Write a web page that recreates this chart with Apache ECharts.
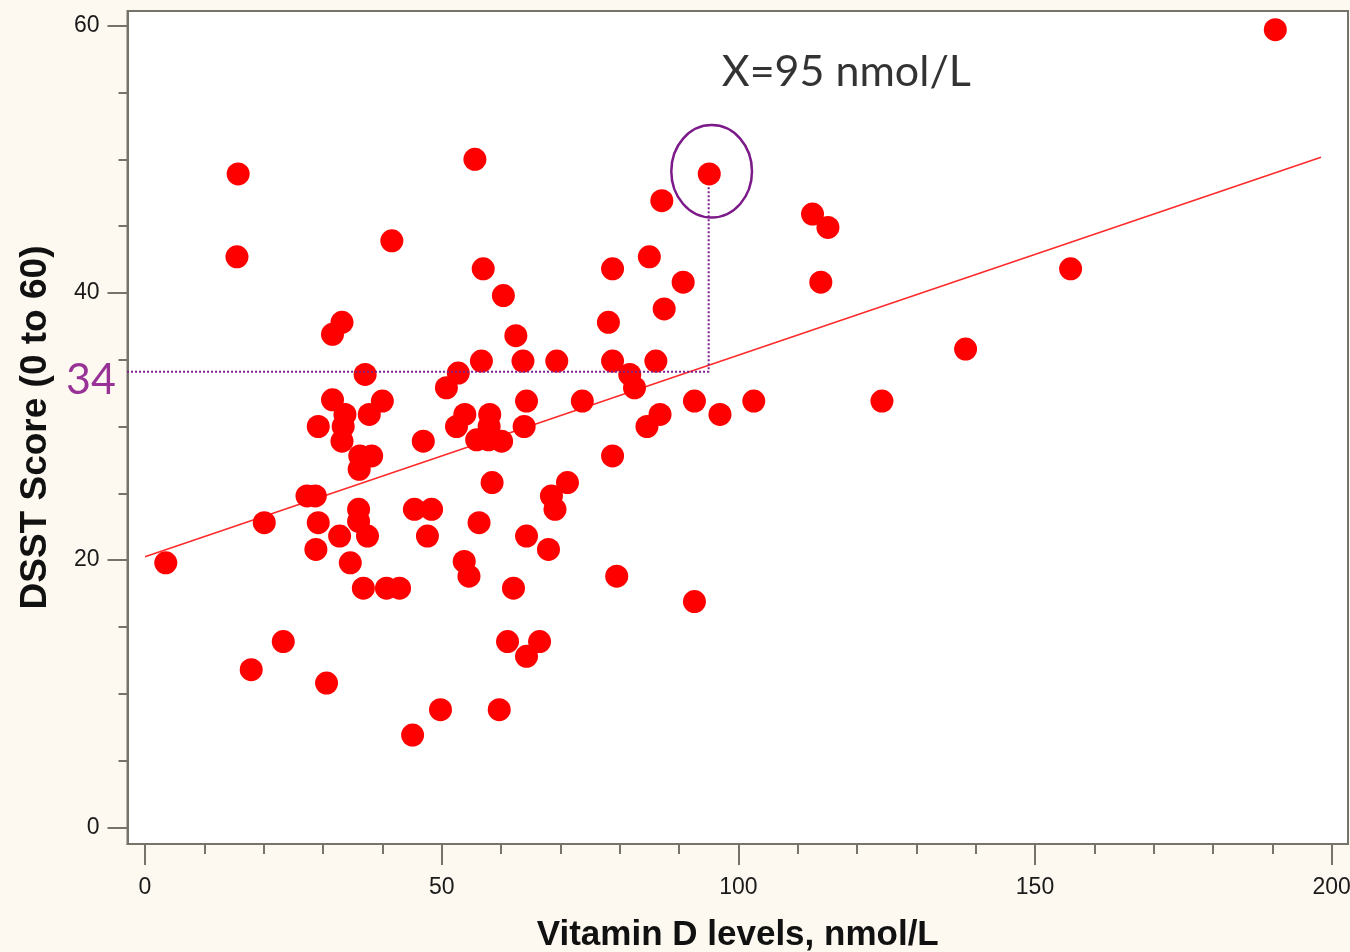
<!DOCTYPE html>
<html>
<head>
<meta charset="utf-8">
<script src="https://cdn.jsdelivr.net/npm/echarts@6/dist/echarts.min.js"></script>
<style>
html,body{margin:0;padding:0;background:#fdf9f0;}
#chart{width:1350px;height:952px;}
</style>
</head>
<body>
<div id="chart"></div>
<script>
// Vitamin D (nmol/L) and DSST score
const vitaminD = [3.5,15.7,15.5,17.9,20.1,23.3,27.3,28.7,28.8,29.2,29.2,30.6,31.6,31.6,32.8,33.2,33.7,33.4,33.2,34.6,
  36.2,36.1,36.0,36.0,37.1,37.5,36.8,37.8,38.2,40.0,40.7,41.6,42.9,45.4,45.1,46.9,47.6,48.3,49.8,50.8,
  52.8,52.5,53.8,54.6,53.9,55.6,55.9,56.3,56.7,57.0,57.9,58.0,58.1,58.5,59.7,60.1,60.4,61.1,62.1,62.5,
  63.7,63.9,64.3,64.3,64.3,66.5,68.0,68.5,69.1,69.4,71.2,73.7,78.1,78.8,78.8,78.8,79.5,81.7,82.5,84.6,
  85.0,86.1,86.8,87.1,87.5,90.7,92.6,92.6,95.1,96.9,102.6,112.5,115.1,113.9,124.2,138.3,156.0,190.5];
const dsstScore = [19.8,48.9,42.7,11.8,22.8,13.9,24.8,24.8,20.8,22.8,30.0,10.8,36.9,32.0,21.8,37.8,30.9,30.0,28.9,19.8,
  27.8,26.8,23.8,22.9,33.9,21.8,17.9,30.9,27.8,31.9,17.9,43.9,17.9,23.8,6.9,28.9,21.8,23.8,8.8,32.9,
  34.0,30.0,19.9,18.8,30.9,50.0,29.0,22.8,34.9,41.8,29.0,30.0,30.9,25.8,8.8,28.9,39.8,13.9,17.9,36.8,
  34.9,30.0,31.9,21.8,12.8,13.9,20.8,24.8,23.8,34.9,25.8,31.9,37.8,41.8,34.9,27.8,18.8,33.9,32.9,30.0,
  42.7,34.9,30.9,46.9,38.8,40.8,31.9,16.9,48.9,30.9,31.9,45.9,44.9,40.8,31.9,35.8,41.8,59.7];

// fitted regression line end points
const fitX = [0, 198.2];
const fitY = [20.25, 50.16];

// annotation: dotted guide from y-axis to x=95
const guideX = [-3.7, 95, 95];
const guideY = [34.1, 34.1, 48.0];
// annotation ellipse: centre x, centre y, radius x, radius y (data units)
const ellipse = [95.5, 49.1, 6.8, 3.46];
// annotation labels
const noteText = ['X=95 nmol/L', '34'];
const noteX = [118.2, -9.1];
const noteY = [56.5, 33.5];

// ticks
const xMajorTicks = [0, 50, 100, 150, 200];
const xMinorTicks = [10, 20, 30, 40, 60, 70, 80, 90, 110, 120, 130, 140, 160, 170, 180, 190];
const yMajorTicks = [0, 20, 40, 60];
const yMinorTicks = [5, 10, 15, 25, 30, 35, 45, 50, 55];

const AX = '#767468';
const FONT = 'Liberation Sans, Arial, sans-serif';
const xMin = -2.95, xMax = 202.75, yMin = -1.25, yMax = 61.1;

const points = vitaminD.map((v, i) => [v, dsstScore[i]]);
const fitData = fitX.map((v, i) => [v, fitY[i]]);
const guideData = guideX.map((v, i) => [v, guideY[i]]);

const gridPos = {left: 127.5, top: 11, right: 2, bottom: 108, containLabel: false, outerBoundsMode: 'none'};

const chart = echarts.init(document.getElementById('chart'), null, {renderer: 'canvas'});
chart.setOption({
  animation: false,
  backgroundColor: '#fdf9f0',
  grid: [
    Object.assign({show: true, backgroundColor: '#ffffff', borderColor: AX, borderWidth: 2}, gridPos),
    Object.assign({show: false}, gridPos)
  ],
  xAxis: [
    {
      type: 'value', gridIndex: 0, min: xMin, max: xMax,
      axisLine: {show: true, onZero: false, lineStyle: {color: AX, width: 2}},
      axisTick: {show: true, length: 21, customValues: xMajorTicks, lineStyle: {color: AX, width: 2}},
      axisLabel: {show: true, customValues: xMajorTicks, margin: 32, fontSize: 23, color: '#1a1a1a', fontFamily: FONT},
      splitLine: {show: false},
      name: 'Vitamin D levels, nmol/L', nameLocation: 'middle', nameGap: 74,
      nameTextStyle: {fontSize: 35, fontWeight: 'bold', color: '#111', fontFamily: FONT}
    },
    {
      type: 'value', gridIndex: 1, min: xMin, max: xMax,
      axisLine: {show: false, onZero: false},
      axisTick: {show: true, length: 10, customValues: xMinorTicks, lineStyle: {color: AX, width: 2}},
      axisLabel: {show: false},
      splitLine: {show: false}
    }
  ],
  yAxis: [
    {
      type: 'value', gridIndex: 0, min: yMin, max: yMax,
      axisLine: {show: true, onZero: false, lineStyle: {color: AX, width: 2}},
      axisTick: {show: true, length: 20, customValues: yMajorTicks, lineStyle: {color: AX, width: 2}},
      axisLabel: {show: true, customValues: yMajorTicks, margin: 28, fontSize: 23, color: '#1a1a1a', fontFamily: FONT},
      splitLine: {show: false},
      name: 'DSST Score (0 to 60)', nameLocation: 'middle', nameGap: 73, nameRotate: 90,
      nameTextStyle: {fontSize: 37, fontWeight: 'bold', color: '#111', fontFamily: FONT}
    },
    {
      type: 'value', gridIndex: 1, min: yMin, max: yMax,
      axisLine: {show: false, onZero: false},
      axisTick: {show: true, length: 9, customValues: yMinorTicks, lineStyle: {color: AX, width: 2}},
      axisLabel: {show: false},
      splitLine: {show: false}
    }
  ],
  series: [
    {
      type: 'line', xAxisIndex: 0, yAxisIndex: 0, data: fitData,
      symbol: 'none', lineStyle: {color: '#ff2a2a', width: 1.6}, z: 2, silent: true
    },
    {
      type: 'scatter', xAxisIndex: 0, yAxisIndex: 0, data: points,
      symbol: 'circle', symbolSize: 23, itemStyle: {color: '#ff0000', opacity: 1}, z: 3
    },
    {
      type: 'line', xAxisIndex: 0, yAxisIndex: 0, data: guideData, clip: false,
      symbol: 'none', lineStyle: {color: '#7d1e8c', width: 2, type: [2, 2]}, z: 4, silent: true
    },
    {
      type: 'custom', xAxisIndex: 0, yAxisIndex: 0, clip: false, silent: true, z: 5,
      data: [ellipse],
      renderItem: function (params, api) {
        const c = api.coord([api.value(0), api.value(1)]);
        const s = api.size([api.value(2), api.value(3)]);
        return {
          type: 'ellipse',
          shape: {cx: c[0], cy: c[1], rx: s[0], ry: s[1]},
          style: {fill: 'none', stroke: '#7b1a88', lineWidth: 2.5}
        };
      }
    },
    {
      type: 'scatter', xAxisIndex: 0, yAxisIndex: 0, clip: false, silent: true, z: 6,
      symbolSize: 0,
      itemStyle: {color: 'transparent'},
      data: noteX.map((v, i) => ({value: [v, noteY[i]], name: noteText[i],
        label: {color: i === 0 ? '#000000' : '#800080'}})),
      label: {show: true, position: 'inside', formatter: '{b}', fontSize: 43,
        fontFamily: 'Lato, Carlito, sans-serif', textBorderWidth: 0, textBorderColor: 'transparent',
        textShadowBlur: 0}
    }
  ]
});
</script>
</body>
</html>
